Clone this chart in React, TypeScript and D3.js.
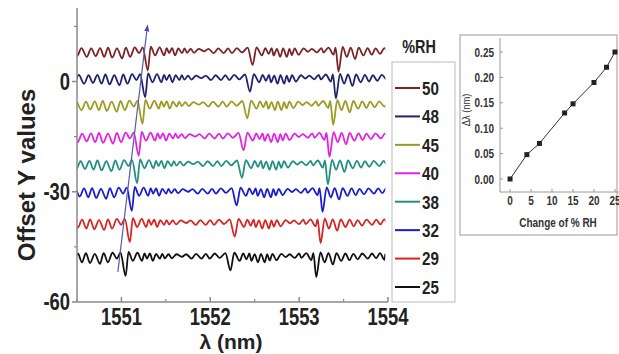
import React from "react";
import * as d3 from "d3";

// ---------- data ----------
const RH_LEVELS = ["50", "48", "45", "40", "38", "32", "29", "25"];
const TRACE_COLORS = ["#7b2226", "#22226e", "#9c9a22", "#e024e0", "#238f82", "#1c1ccc", "#d62424", "#111111"];
const TRACE_OFFSETS = [8.7, 1.4, -5.8, -14.5, -22.0, -29.5, -38.0, -47.2];

// inset: change of %RH vs wavelength shift
const RH_CHANGE = [0, 4, 7, 13, 15, 20, 23, 25];
const DELTA_LAMBDA = [0, 0.048, 0.07, 0.13, 0.148, 0.19, 0.22, 0.25];
const RH_VALUES = ["25", "29", "32", "38", "40", "45", "48", "50"];

// base spectrum (25 %RH trace): [wavelength nm, offset]
const BASE_PROFILE: [number, number][] = [
  [1550.2, 0.3], [1550.25, -1.8], [1550.3, 0.4], [1550.36, -2.0], [1550.41, 0.3], [1550.46, -1.8],
  [1550.51, 0.4], [1550.556, -2.0], [1550.6, 0.5], [1550.646, -2.2], [1550.7, 0.3], [1550.758, -2.4],
  [1550.8, 0.5], [1550.848, -2.0], [1550.9, 0.6], [1550.949, -1.0], [1550.99, 0.6], [1551.047, -5.7],
  [1551.08, 0.8], [1551.129, -1.6], [1551.18, 0.6], [1551.23, -1.6], [1551.26, 0.4], [1551.287, -1.0],
  [1551.32, 0.4], [1551.354, -1.6], [1551.39, 0.3], [1551.433, -1.0], [1551.46, 0.3], [1551.489, -0.9],
  [1551.53, 0.2], [1551.567, -0.9], [1551.62, 0.2], [1551.68, -0.5], [1551.73, 0.2], [1551.789, -1.0],
  [1551.84, 0.3], [1551.901, -1.0], [1551.95, 0.3], [1551.994, -1.0], [1552.05, 0.4], [1552.107, -0.8],
  [1552.17, 0.5], [1552.227, -4.2], [1552.27, 0.6], [1552.331, -1.6], [1552.37, 0.4], [1552.407, -1.2],
  [1552.44, 0.4], [1552.463, -1.6], [1552.5, 0.2], [1552.537, -2.0], [1552.57, 0.3], [1552.612, -2.0],
  [1552.64, 0.2], [1552.668, -1.5], [1552.7, 0.3], [1552.744, -1.4], [1552.8, 0.3], [1552.85, -0.6],
  [1552.893, 0.2], [1552.95, -0.8], [1553.0, 0.4], [1553.025, -0.8], [1553.08, 0.5], [1553.137, -1.4],
  [1553.16, 0.5], [1553.193, -6.0], [1553.24, 0.7], [1553.287, -2.0], [1553.33, 0.5], [1553.38, -2.6],
  [1553.42, 0.5], [1553.474, -1.6], [1553.52, 0.4], [1553.567, -1.4], [1553.61, 0.3], [1553.66, -1.2],
  [1553.71, 0.4], [1553.773, -1.0], [1553.82, 0.4], [1553.867, -0.9], [1553.91, 0.5], [1553.96, -1.3],
  [1553.97, 0.3],
];
const TRACE_RANGE = [1550.5, 1553.97];

const X_TICKS = [1551, 1552, 1553, 1554];
const X_MINOR = [1550.5, 1551.5, 1552.5, 1553.5];
const Y_TICKS = [-60, -30, 0];
const Y_MINOR = [-45, -15, 15];

const ARROW: [number, number][] = [[1550.96, -51.8], [1551.29, 14.6]];

const INSET_X_TICKS = [0, 5, 10, 15, 20, 25];
const INSET_Y_TICKS = [0, 0.05, 0.1, 0.15, 0.2, 0.25];

// ---------- chart ----------
const SANS = "'Liberation Sans', Arial, sans-serif";

function NText(props: {
  x: number;
  y: number;
  size: number;
  anchor?: "start" | "middle" | "end";
  dy?: string;
  bold?: boolean;
  fill?: string;
  sx?: number;
  children: React.ReactNode;
}) {
  const { x, y, size, anchor = "start", dy, bold = true, fill = "#222", sx = 0.8, children } = props;
  return (
    <text
      transform={`translate(${x},${y}) scale(${sx},1)`}
      dy={dy}
      textAnchor={anchor}
      fontFamily={SANS}
      fontWeight={bold ? "bold" : "normal"}
      fontSize={size}
      fill={fill}
    >
      {children}
    </text>
  );
}

export default function App() {
  const x = d3.scaleLinear().domain([1550.5, 1554]).range([77, 388]);
  const y = d3.scaleLinear().domain([-60, 20]).range([302, 8]);

  const line = d3
    .line<[number, number]>()
    .x((d) => x(d[0]))
    .y((d) => y(d[1]))
    .curve(d3.curveMonotoneX);

  const traces = RH_LEVELS.map((rh, i) => {
    const shift = DELTA_LAMBDA[RH_VALUES.indexOf(rh)];
    const pts = BASE_PROFILE.map((p) => [p[0] + shift, p[1] + TRACE_OFFSETS[i]] as [number, number]);
    return { rh, color: TRACE_COLORS[i], d: line(pts) || "" };
  });

  // inset scales
  const ix = d3.scaleLinear().domain([-2.4, 26.2]).range([500, 620]);
  const iy = d3.scaleLinear().domain([-0.0256, 0.2776]).range([192, 38]);
  const insetPts = RH_CHANGE.map((c, i) => [c, DELTA_LAMBDA[i]] as [number, number]);
  const insetLine = d3
    .line<[number, number]>()
    .x((d) => ix(d[0]))
    .y((d) => iy(d[1]));

  const legendY = d3.scalePoint<string>().domain(RH_LEVELS).range([88, 287]);

  const axisColor = "#8a8a8a";

  return (
    <div style={{ position: "absolute", left: 0, top: 0 }}>
      <svg width={619} height={354} style={{ display: "block", background: "#fff" }}>
        <defs>
          <clipPath id="traceClip">
            <rect x={x(TRACE_RANGE[0])} y={0} width={x(TRACE_RANGE[1]) - x(TRACE_RANGE[0])} height={354} />
          </clipPath>
          <marker id="arrowHead" viewBox="0 0 10 10" refX="5" refY="5" markerWidth="6" markerHeight="7" orient="auto">
            <path d="M0,1.5 L10,5 L0,8.5 Z" fill="#4a4aa8" />
          </marker>
        </defs>

        {/* traces */}
        <g clipPath="url(#traceClip)">
          {traces.map((t) => (
            <path key={t.rh} d={t.d} fill="none" stroke={t.color} strokeWidth={1.8} strokeLinejoin="round" />
          ))}
        </g>

        {/* arrow */}
        <line
          x1={x(ARROW[0][0])}
          y1={y(ARROW[0][1])}
          x2={x(ARROW[1][0])}
          y2={y(ARROW[1][1])}
          stroke="#5a5aa8"
          strokeWidth={1.2}
          markerEnd="url(#arrowHead)"
        />

        {/* axes */}
        <line x1={77} y1={y(20)} x2={77} y2={y(-60)} stroke={axisColor} strokeWidth={1.5} />
        <line x1={77} y1={y(-60)} x2={388} y2={y(-60)} stroke={axisColor} strokeWidth={1.5} />
        {Y_TICKS.map((v) => (
          <g key={v}>
            <line x1={72} x2={77} y1={y(v)} y2={y(v)} stroke={axisColor} strokeWidth={1.5} />
            <NText x={70} y={y(v)} dy="0.36em" anchor="end" size={23}>
              {v}
            </NText>
          </g>
        ))}
        {Y_MINOR.map((v) => (
          <line key={v} x1={74} x2={77} y1={y(v)} y2={y(v)} stroke={axisColor} strokeWidth={1.2} />
        ))}
        {X_TICKS.map((v) => (
          <g key={v}>
            <line x1={x(v)} x2={x(v)} y1={y(-60)} y2={y(-60) - 5} stroke={axisColor} strokeWidth={1.5} />
            <NText x={x(v)} y={325} anchor="middle" size={23}>
              {v}
            </NText>
          </g>
        ))}
        {X_MINOR.map((v) => (
          <line key={v} x1={x(v)} x2={x(v)} y1={y(-60)} y2={y(-60) - 3} stroke={axisColor} strokeWidth={1.2} />
        ))}
        <text
          transform={`translate(35,175) rotate(-90)`}
          textAnchor="middle"
          fontFamily={SANS}
          fontWeight="bold"
          fontSize={24}
          fill="#222"
        >
          Offset Y values
        </text>
        <text x={231} y={349} textAnchor="middle" fontFamily={SANS} fontWeight="bold" fontSize={21} fill="#222">
          λ (nm)
        </text>

        {/* legend */}
        <NText x={419} y={47} dy="0.36em" anchor="middle" size={18}>
          %RH
        </NText>
        <rect x={392} y={62} width={63} height={240} fill="none" stroke="#bbb" strokeWidth={1} />
        {RH_LEVELS.map((rh, i) => (
          <g key={rh}>
            <line x1={395} x2={420} y1={legendY(rh)} y2={legendY(rh)} stroke={TRACE_COLORS[i]} strokeWidth={2} />
            <NText x={422} y={legendY(rh)!} dy="0.36em" size={19}>
              {rh}
            </NText>
          </g>
        ))}

        {/* inset */}
        <rect x={460} y={35} width={157} height={200} fill="#fff" stroke="#999" strokeWidth={1} />
        <line x1={500} x2={500} y1={38} y2={192} stroke="#999" strokeWidth={1} />
        <line x1={500} x2={619} y1={192} y2={192} stroke="#999" strokeWidth={1} />
        {INSET_Y_TICKS.map((v) => (
          <g key={v}>
            <line x1={500} x2={503} y1={iy(v)} y2={iy(v)} stroke="#999" />
            <NText x={494} y={iy(v)} dy="0.36em" anchor="end" size={12.5} fill="#333">
              {v.toFixed(2)}
            </NText>
          </g>
        ))}
        {INSET_X_TICKS.map((v) => (
          <g key={v}>
            <line x1={ix(v)} x2={ix(v)} y1={192} y2={189} stroke="#999" />
            <NText x={ix(v)} y={205} anchor="middle" size={12.5} fill="#333">
              {v}
            </NText>
          </g>
        ))}
        <NText x={558} y={227} anchor="middle" size={12.5} fill="#333">
          Change of % RH
        </NText>
        <text
          transform={`translate(470,110) rotate(-90) scale(0.85,1)`}
          textAnchor="middle"
          fontFamily={SANS}
          fontSize={11}
          fill="#333"
        >
          Δλ (nm)
        </text>
        <path d={insetLine(insetPts) || ""} fill="none" stroke="#333" strokeWidth={1} />
        {insetPts.map((p, i) => (
          <rect key={i} x={ix(p[0]) - 2.5} y={iy(p[1]) - 2.5} width={5} height={5} fill="#222" />
        ))}
      </svg>
    </div>
  );
}
